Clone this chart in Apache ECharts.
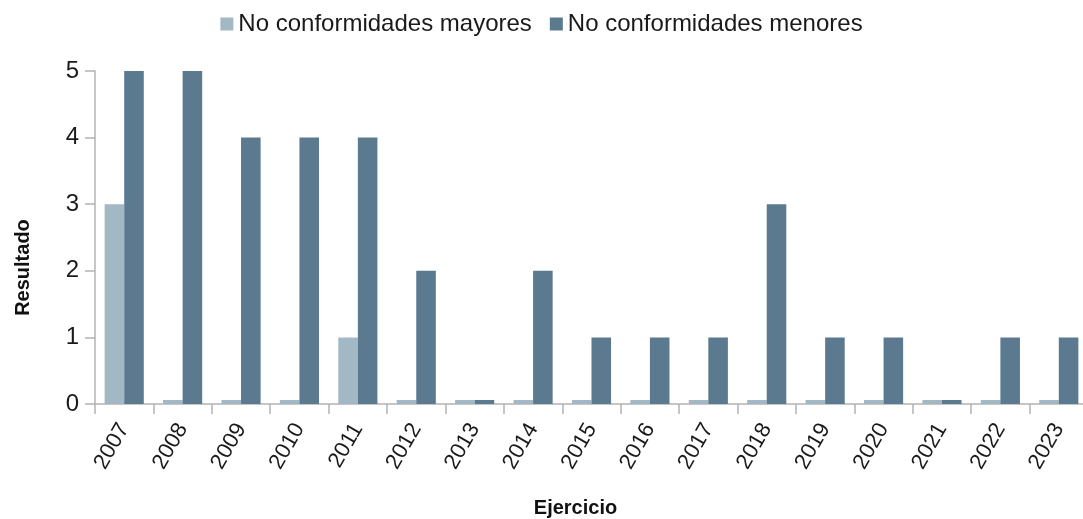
<!DOCTYPE html>
<html><head><meta charset="utf-8">
<script src="https://cdn.jsdelivr.net/npm/echarts@6/dist/echarts.min.js"></script>
<style>html,body{margin:0;padding:0;background:#fff}#c{width:1083px;height:519px}</style>
</head><body><div id="c"></div>
<script>
const years = ['2007','2008','2009','2010','2011','2012','2013','2014','2015','2016','2017','2018','2019','2020','2021','2022','2023'];
const mayores = [3,0,0,0,1,0,0,0,0,0,0,0,0,0,0,0,0];
const menores = [5,5,4,4,4,2,0,2,1,1,1,3,1,1,0,1,1];
const yTicks = [0,1,2,3,4,5];
const font = 'Liberation Sans, Arial, sans-serif';
const chart = echarts.init(document.getElementById('c'));
chart.setOption({
  animation:false,
  legend:{top:7,left:'center',itemWidth:13,itemHeight:13,itemGap:18,icon:'rect',
    textStyle:{fontFamily:font,fontSize:24,color:'#1a1a1a'}},
  grid:{left:95,right:-5,top:71,bottom:115,containLabel:false,outerBoundsMode:'none'},
  xAxis:{type:'category',data:years,name:'Ejercicio',nameLocation:'middle',nameGap:94,
    nameTextStyle:{fontFamily:font,fontSize:20,fontWeight:'bold',color:'#111',padding:[0,32,0,0]},
    axisLine:{lineStyle:{color:'#b3b3b3',width:1.5}},
    axisTick:{show:true,length:10,lineStyle:{color:'#b3b3b3',width:1.5}},
    axisLabel:{rotate:60,fontFamily:font,fontSize:22,color:'#1a1a1a',margin:21}},
  yAxis:{type:'value',min:0,max:5,interval:1,name:'Resultado',nameLocation:'middle',nameGap:62,
    nameTextStyle:{fontFamily:font,fontSize:20,fontWeight:'bold',color:'#111',padding:[0,60,0,0]},
    axisLine:{show:true,lineStyle:{color:'#b3b3b3',width:1.5}},
    axisTick:{show:true,length:10,lineStyle:{color:'#b3b3b3',width:1.5}},
    splitLine:{show:false},
    axisLabel:{fontFamily:font,fontSize:24,color:'#1a1a1a',margin:16,
      formatter:v=>yTicks.includes(v)?String(v):''}},
  series:[
    {name:'No conformidades mayores',type:'bar',data:mayores,barGap:'0%',barCategoryGap:'33%',barMinHeight:4,
      itemStyle:{color:'#a2b8c5'}},
    {name:'No conformidades menores',type:'bar',data:menores,barGap:'0%',barCategoryGap:'33%',barMinHeight:4,
      itemStyle:{color:'#5b7a90'}}
  ]
});
</script></body></html>
